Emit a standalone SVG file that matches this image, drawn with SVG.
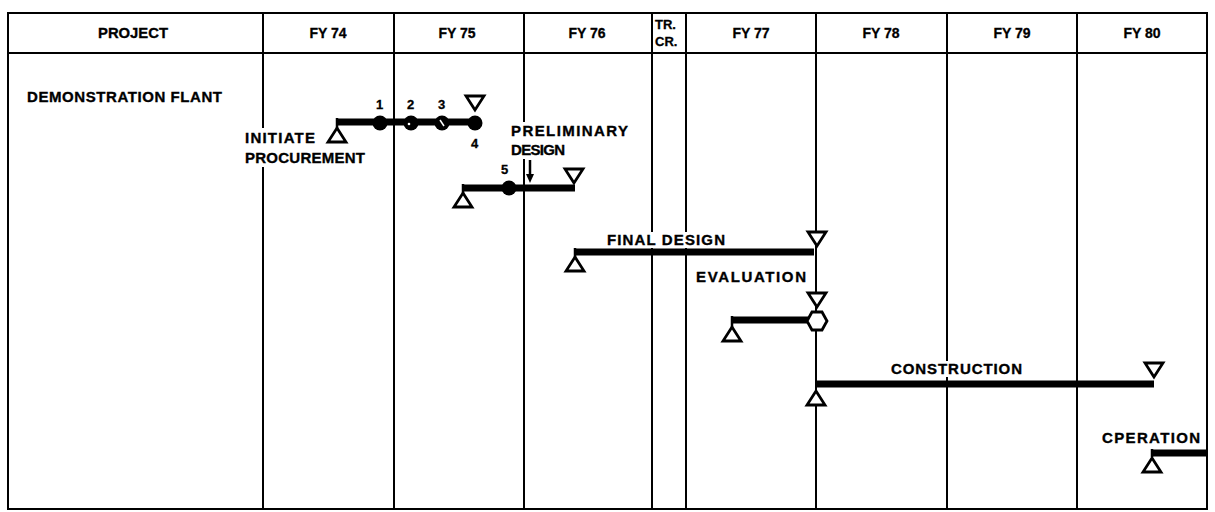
<svg xmlns="http://www.w3.org/2000/svg" width="1215" height="512" viewBox="0 0 1215 512">
<defs>
<style>
.grid{stroke:#000;stroke-width:2;fill:none}
.bar{stroke:#000;stroke-width:7;fill:none}
.thin{stroke:#000;stroke-width:2.5;fill:none}
.tri{fill:#fff;stroke:#000;stroke-width:2.8;stroke-linejoin:miter}
.dot{fill:#000}
.mask{fill:#fff}
.t{font-family:"Liberation Sans",Arial,sans-serif;font-weight:bold;font-size:15px;fill:#000;stroke:#000;stroke-width:0.35}
.h{font-family:"Liberation Sans",Arial,sans-serif;font-weight:bold;font-size:14px;fill:#000;stroke:#000;stroke-width:0.3;text-anchor:middle}
.s{font-family:"Liberation Sans",Arial,sans-serif;font-weight:bold;font-size:13px;fill:#000;stroke:#000;stroke-width:0.3}
</style>
<path id="up" d="M0,0 L9,14 L-9,14 Z"/>
<path id="dn" d="M0,0 L-9,-14 L9,-14 Z"/>
</defs>
<rect width="1215" height="512" fill="#fff"/>
<g id="table">
<rect class="grid" x="8" y="13" width="1199" height="496"/>
<line class="grid" x1="8" y1="53" x2="1207" y2="53"/>
<line class="grid" x1="263" y1="13" x2="263" y2="509"/>
<line class="grid" x1="394" y1="13" x2="394" y2="509"/>
<line class="grid" x1="524" y1="13" x2="524" y2="509"/>
<line class="grid" x1="652" y1="13" x2="652" y2="509"/>
<line class="grid" x1="686" y1="13" x2="686" y2="509"/>
<line class="grid" x1="816" y1="13" x2="816" y2="509"/>
<line class="grid" x1="947" y1="13" x2="947" y2="509"/>
<line class="grid" x1="1077" y1="13" x2="1077" y2="509"/>
</g>
<g id="header">
<text class="h" x="133" y="38" textLength="70" lengthAdjust="spacingAndGlyphs">PROJECT</text>
<text class="h" x="328" y="38">FY 74</text>
<text class="h" x="457" y="38">FY 75</text>
<text class="h" x="587" y="38">FY 76</text>
<text class="s" x="655" y="29">TR.</text>
<text class="s" x="655" y="46">CR.</text>
<text class="h" x="751" y="38">FY 77</text>
<text class="h" x="881" y="38">FY 78</text>
<text class="h" x="1012" y="38">FY 79</text>
<text class="h" x="1142" y="38">FY 80</text>
</g>
<g id="project-label">
<text class="t" x="27" y="102" textLength="195" lengthAdjust="spacing">DEMONSTRATION FLANT</text>
</g>
<g id="connectors">
<line class="bar" x1="336" y1="122" x2="475" y2="122"/>
<line class="thin" x1="337" y1="118" x2="337" y2="128"/>
<line class="bar" x1="462" y1="188" x2="575" y2="188"/>
<line class="thin" x1="463" y1="184" x2="463" y2="193"/>
<line class="bar" x1="574" y1="252" x2="814" y2="252"/>
<line class="thin" x1="575" y1="248" x2="575" y2="257"/>
<line class="bar" x1="731" y1="320" x2="808" y2="320"/>
<line class="thin" x1="732" y1="316" x2="732" y2="327"/>
<line class="bar" x1="817" y1="384" x2="1154" y2="384"/>
<line class="bar" x1="1151" y1="453" x2="1207" y2="453"/>
<line class="thin" x1="1152" y1="449" x2="1152" y2="457"/>
<line class="thin" x1="530" y1="160" x2="530" y2="176"/>
<path d="M526,174 L534,174 L530,183 Z" fill="#000"/>
</g>
<g id="initiate-procurement">
<rect class="mask" x="243" y="128" width="126" height="39"/>
<use href="#up" x="337" y="128" class="tri"/>
<text class="t" x="245" y="143" textLength="70" lengthAdjust="spacing">INITIATE</text>
<text class="t" x="245" y="163" textLength="120" lengthAdjust="spacing">PROCUREMENT</text>
<circle class="dot" cx="380" cy="123" r="7.5"/>
<circle class="dot" cx="411" cy="123" r="7.5"/>
<circle cx="409" cy="124" r="1.3" fill="#fff"/>
<circle class="dot" cx="442" cy="123" r="7.5"/>
<line x1="440" y1="120" x2="444" y2="126" stroke="#fff" stroke-width="1.5"/>
<circle class="dot" cx="475" cy="123" r="7.5"/>
<use href="#dn" x="475" y="110" class="tri"/>
<text class="s" x="376" y="109">1</text>
<text class="s" x="407" y="109">2</text>
<text class="s" x="438" y="109">3</text>
<text class="s" x="471" y="148">4</text>
</g>
<g id="preliminary-design">
<rect class="mask" x="509" y="122" width="122" height="37"/>
<text class="t" x="511" y="136" textLength="117" lengthAdjust="spacing">PRELIMINARY</text>
<text class="t" x="511" y="155" textLength="54" lengthAdjust="spacing">DESIGN</text>
<use href="#up" x="463" y="193" class="tri"/>
<circle class="dot" cx="509" cy="188" r="7.5"/>
<text class="s" x="501" y="174">5</text>
<use href="#dn" x="574" y="183" class="tri"/>
</g>
<g id="final-design">
<rect class="mask" x="604" y="232" width="124" height="16"/>
<text class="t" x="607" y="245" textLength="118" lengthAdjust="spacing">FINAL DESIGN</text>
<use href="#up" x="575" y="257" class="tri"/>
<use href="#dn" x="817" y="246" class="tri"/>
</g>
<g id="evaluation">
<text class="t" x="696" y="282" textLength="110" lengthAdjust="spacing">EVALUATION</text>
<use href="#dn" x="817" y="307" class="tri"/>
<polygon class="tri" points="812,312 822,312 827,321 822,330 812,330 807,321"/>
<use href="#up" x="732" y="327" class="tri"/>
</g>
<g id="construction">
<rect class="mask" x="888" y="361" width="137" height="16"/>
<text class="t" x="891" y="374" textLength="131" lengthAdjust="spacing">CONSTRUCTION</text>
<use href="#up" x="816" y="391" class="tri"/>
<use href="#dn" x="1154" y="377" class="tri"/>
</g>
<g id="operation">
<text class="t" x="1102" y="443" textLength="98" lengthAdjust="spacing">CPERATION</text>
<use href="#up" x="1152" y="458" class="tri"/>
</g>
</svg>
